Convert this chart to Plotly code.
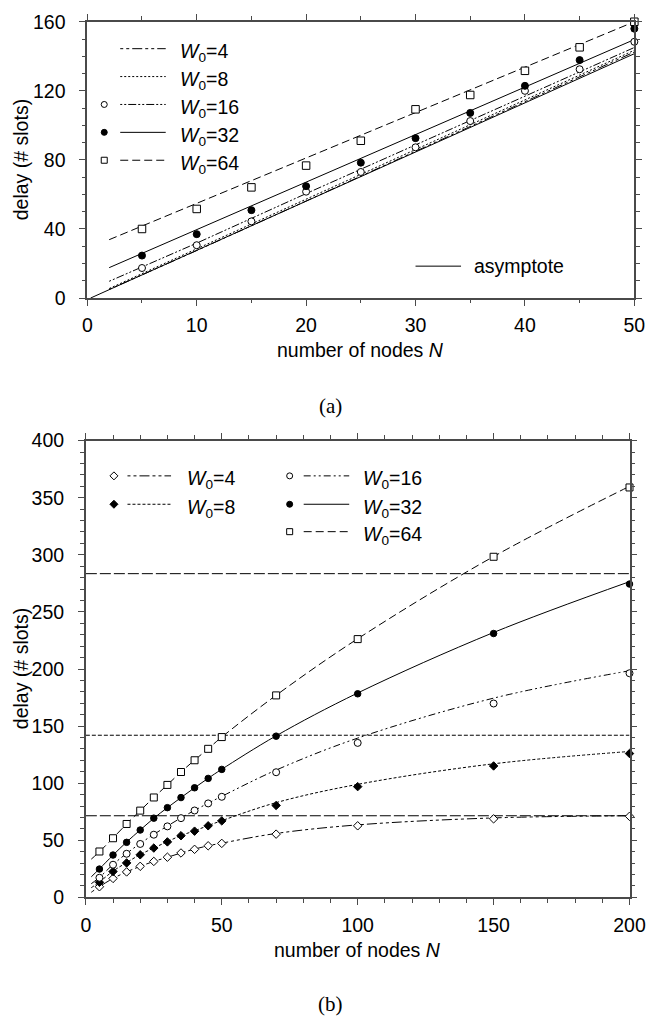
import plotly.graph_objects as go

W, H = 661, 1032

# ---------------- data: panel (a) ----------------
A_N_MARK = [5, 10, 15, 20, 25, 30, 35, 40, 45, 50]
A_W16 = [17.4, 30.6, 44.4, 61.6, 73.0, 87.3, 102.5, 120.0, 132.5, 148.4]
A_W32 = [24.6, 37.0, 50.9, 64.8, 78.4, 92.6, 107.2, 122.9, 137.8, 156.0]
A_W64 = [40.0, 51.6, 64.1, 76.7, 91.1, 109.3, 117.6, 131.6, 145.2, 160.0]

A_N_LINE = [2, 10, 20, 30, 40, 50]
A_L4 = [5.0, 27.5, 56.2, 85.0, 113.7, 142.5]
A_L8 = [5.5, 28.5, 57.3, 86.0, 114.8, 143.5]
A_L16 = [9.7, 31.8, 60.5, 88.7, 116.9, 145.1]
A_L32 = [17.6, 39.6, 67.1, 94.6, 122.2, 149.7]
A_L64 = [33.8, 54.8, 81.1, 107.4, 133.7, 160.0]
A_ASYM_N = [0.3, 50]
A_ASYM = [0.0, 141.5]

# ---------------- data: panel (b) ----------------
B_N_MARK = [5, 10, 15, 20, 25, 30, 35, 40, 45, 50, 70, 100, 150, 200]
B_W4 = [9.3, 16.6, 22.3, 27.2, 31.5, 35.2, 38.9, 42.1, 45.2, 47.3, 55.4, 62.7, 68.8, 71.0]
B_W8 = [13.2, 22.6, 30.2, 37.3, 43.2, 48.6, 54.0, 58.0, 62.7, 67.0, 80.5, 97.0, 115.1, 126.0]
B_W16 = [17.2, 28.6, 38.2, 46.8, 54.9, 62.2, 69.4, 76.1, 82.3, 88.1, 109.6, 135.3, 169.8, 196.3]
B_W32 = [24.8, 37.1, 48.2, 59.0, 69.4, 78.6, 87.4, 96.0, 104.2, 112.1, 141.2, 178.3, 231.1, 274.4]
B_W64 = [40.2, 51.8, 64.3, 76.0, 87.5, 98.5, 109.8, 120.1, 130.1, 140.4, 176.9, 226.2, 298.3, 359.0]

B_N_LINE = [2, 5, 10, 15, 20, 25, 30, 35, 40, 45, 50, 70, 100, 150, 200]
B_L4 = [4.5, 9.4, 16.6, 22.3, 27.2, 31.5, 35.1, 38.9, 42.3, 45.2, 47.5, 56.0, 63.5, 69.6, 71.5]
B_L8 = [8.5, 13.5, 23.0, 30.5, 37.5, 43.3, 48.8, 54.2, 58.3, 62.9, 67.2, 83.0, 99.0, 117.0, 127.8]
B_L16 = [12.0, 17.5, 28.8, 38.5, 47.2, 55.2, 62.5, 69.6, 76.2, 82.5, 88.5, 111.5, 139.5, 174.5, 198.5]
B_L32 = [18.0, 25.0, 37.0, 48.5, 59.0, 69.3, 78.6, 87.4, 96.0, 104.3, 112.2, 141.5, 179.0, 232.0, 276.5]
B_L64 = [33.5, 40.0, 52.0, 64.3, 76.0, 87.5, 98.6, 109.8, 120.2, 130.2, 140.4, 177.0, 226.5, 298.5, 360.0]
B_HLINES = [71.5, 142.0, 283.5]
B_HRANGE = [0, 200]

LEG_A = ["4", "8", "16", "32", "64"]
LEG_B1 = ["4", "8"]
LEG_B2 = ["16", "32", "64"]

# ---------------- styles ----------------
DASH = {
    "4": "3px,3px,3px,3px,10px,3px",
    "8": "3px,2px",
    "16": "7px,3px,2px,3px,2px,3px",
    "32": "solid",
    "64": "8px,4px",
}
DASH_A = {"4": DASH["4"], "8": "2px,2px", "16": "2px,2px,2px,2px,8px,2px",
          "32": "solid", "64": DASH["64"]}
HDASH = ["11px,3px", "4px,2px", "11px,3px"]
LW = 1.0
FONT = "Liberation Sans, Arial, Helvetica, sans-serif"
FS = 19.5
AXC = "#4a4a4a"

fig = go.Figure()


def line_trace(x, y, dash, xa, ya, shape="linear"):
    fig.add_trace(go.Scatter(x=x, y=y, mode="lines", xaxis=xa, yaxis=ya,
                             line=dict(color="black", width=LW, dash=dash, shape=shape),
                             hoverinfo="skip"))


def mark_trace(x, y, symbol, size, filled, xa, ya):
    fig.add_trace(go.Scatter(x=x, y=y, mode="markers", xaxis=xa, yaxis=ya, cliponaxis=False,
                             marker=dict(symbol=symbol, size=size,
                                         color="black" if filled else "white",
                                         line=dict(color="black", width=1.0)),
                             hoverinfo="skip"))


# panel (a)
line_trace(A_ASYM_N, A_ASYM, "solid", "x", "y")
line_trace(A_N_LINE, A_L4, DASH_A["4"], "x", "y")
line_trace(A_N_LINE, A_L8, DASH_A["8"], "x", "y")
line_trace(A_N_LINE, A_L16, DASH_A["16"], "x", "y")
line_trace(A_N_LINE, A_L32, DASH_A["32"], "x", "y")
line_trace(A_N_LINE, A_L64, DASH_A["64"], "x", "y")
mark_trace(A_N_MARK, A_W16, "circle", 7, False, "x", "y")
mark_trace(A_N_MARK, A_W32, "circle", 7, True, "x", "y")
mark_trace(A_N_MARK, A_W64, "square", 7.5, False, "x", "y")

# panel (b)
for v, d in zip(B_HLINES, HDASH):
    line_trace(B_HRANGE, [v, v], d, "x2", "y2")
line_trace(B_N_LINE, B_L4, DASH["4"], "x2", "y2", "spline")
line_trace(B_N_LINE, B_L8, DASH["8"], "x2", "y2", "spline")
line_trace(B_N_LINE, B_L16, DASH["16"], "x2", "y2", "spline")
line_trace(B_N_LINE, B_L32, DASH["32"], "x2", "y2", "spline")
line_trace(B_N_LINE, B_L64, DASH["64"], "x2", "y2", "spline")
mark_trace(B_N_MARK, B_W4, "diamond", 6.5, False, "x2", "y2")
mark_trace(B_N_MARK, B_W8, "diamond", 6.5, True, "x2", "y2")
mark_trace(B_N_MARK, B_W16, "circle", 7, False, "x2", "y2")
mark_trace(B_N_MARK, B_W32, "circle", 6.5, True, "x2", "y2")
mark_trace(B_N_MARK, B_W64, "square", 7, False, "x2", "y2")


def px(x):
    return x / W


def py(y):
    return 1 - y / H


def axis(dom, rng, dtick, mdtick, **kw):
    d = dict(domain=dom, range=rng, dtick=dtick, tick0=0, showgrid=False, zeroline=False,
             showline=True, linecolor=AXC, linewidth=1.7, mirror="allticks",
             ticks="outside", ticklen=6, tickwidth=1.4, tickcolor=AXC,
             tickfont=dict(family=FONT, size=FS, color="black"),
             minor=dict(dtick=mdtick, tick0=0, ticks="outside", ticklen=3.5,
                        tickwidth=1.2, tickcolor=AXC, showgrid=False),
             fixedrange=True)
    d.update(kw)
    return d


fig.update_layout(
    width=W, height=H, margin=dict(l=0, r=0, t=0, b=0),
    paper_bgcolor="white", plot_bgcolor="white", showlegend=False,
    xaxis=axis([px(85), px(650)], [0, 50], 10, 5, anchor="y", ticklabelstandoff=3),
    yaxis=axis([py(293.3), py(11)], [0, 160], 40, 10, anchor="x", ticklabelstandoff=10),
    xaxis2=axis([px(83.5), px(645)], [0, 200], 50, 10, anchor="y2", ticklabelstandoff=3),
    yaxis2=axis([py(905.7), py(439)], [0, 400], 50, 10, anchor="x2", ticklabelstandoff=10),
)

ann = []
shapes = []


def text(x, y, s, size=FS, family=FONT, angle=0, xanchor="center"):
    ann.append(dict(x=px(x), y=py(y), xref="paper", yref="paper", text=s, showarrow=False,
                    xanchor=xanchor, yanchor="middle", textangle=angle,
                    font=dict(family=family, size=size, color="black")))


def key_line(x0, x1, y, dash):
    shapes.append(dict(type="line", xref="paper", yref="paper", x0=px(x0), x1=px(x1),
                       y0=py(y), y1=py(y), line=dict(color="black", width=LW, dash=dash)))


def key_marker(x, y, kind, filled, r=3):
    base = dict(xref="paper", yref="paper", xsizemode="pixel", ysizemode="pixel",
                xanchor=px(x), yanchor=py(y),
                fillcolor="black" if filled else "white",
                line=dict(color="black", width=1))
    if kind == "circle":
        base.update(type="circle", x0=-r, x1=r, y0=-r, y1=r)
    elif kind == "square":
        base.update(type="rect", x0=-r, x1=r, y0=-r, y1=r)
    else:
        rr = r + 1
        base.update(type="path", path=f"M {-rr},0 L 0,{rr} L {rr},0 L 0,{-rr} Z")
    shapes.append(base)


def wlabel(v):
    return f"<i>W</i><sub>0</sub>={v}"


# axis titles
text(367.5, 346, "number of nodes <i>N</i>")
text(364, 959, "number of nodes <i>N</i>")
text(16, 152, "delay (# slots)", angle=-90)
text(16, 672, "delay (# slots)", angle=-90)
text(336, 404, "(a)", size=21, family="Liberation Serif, Times New Roman, serif")
text(336, 1015, "(b)", size=21, family="Liberation Serif, Times New Roman, serif")

# legend (a)
rows_a = [38.5, 67, 95.5, 124, 152.5]
mk_a = {"16": ("circle", False), "32": ("circle", True), "64": ("square", False)}
for v, r in zip(LEG_A, rows_a):
    key_line(119, 166, r, DASH_A[v])
    if v in mk_a:
        key_marker(102.5, r, mk_a[v][0], mk_a[v][1])
    text(179, r + 4, wlabel(v), xanchor="left")
key_line(424, 471, 260.7, "solid")
text(482, 260.7, "asymptote", xanchor="left")

# legend (b)
rows_b = [475, 504, 532]
mk_b = {"4": ("diamond", False), "8": ("diamond", True), "16": ("circle", False),
        "32": ("circle", True), "64": ("square", False)}
for v, r in zip(LEG_B1, rows_b):
    key_marker(112.5, r, *mk_b[v])
    key_line(126.5, 171.5, r, DASH[v])
    text(186, r + 4, wlabel(v), xanchor="left")
for v, r in zip(LEG_B2, rows_b):
    key_marker(294, r, *mk_b[v])
    key_line(308.5, 355.5, r, DASH[v])
    text(368, r + 4, wlabel(v), xanchor="left")

fig.update_layout(annotations=ann, shapes=shapes)
fig.write_html("out.html")
